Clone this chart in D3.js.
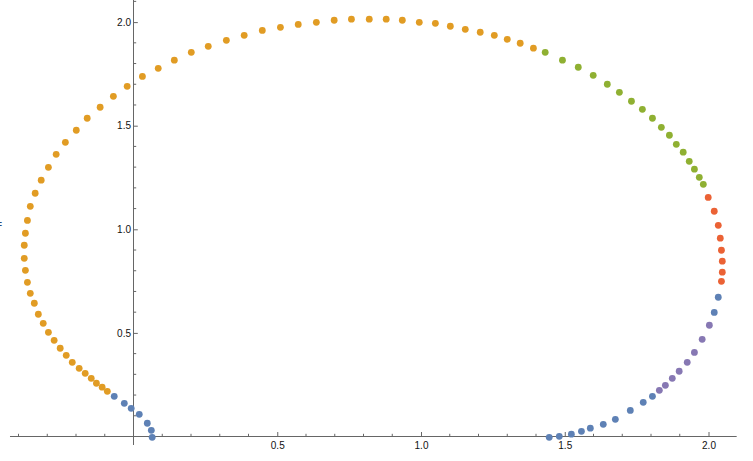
<!DOCTYPE html>
<html>
<head>
<meta charset="utf-8">
<script src="https://cdn.jsdelivr.net/npm/d3@7"></script>
<style>
  html, body { margin: 0; padding: 0; background: #fff; }
  svg { display: block; }
  .tick text { font-family: "Liberation Sans", Arial, sans-serif; font-size: 10px; fill: #111; }
</style>
</head>
<body>
<svg id="chart" width="753" height="461"></svg>
<script>
// ---- data ----
const orangePoints = [
  [-0.091,0.218],[-0.109,0.238],[-0.129,0.257],[-0.147,0.281],[-0.168,0.305],[-0.189,0.329],
  [-0.213,0.358],[-0.234,0.392],[-0.255,0.426],[-0.276,0.464],[-0.296,0.503],[-0.314,0.546],
  [-0.331,0.590],[-0.345,0.643],[-0.359,0.691],[-0.369,0.744],[-0.376,0.802],[-0.380,0.860],
  [-0.380,0.923],[-0.376,0.981],[-0.369,1.043],[-0.359,1.111],[-0.342,1.174],[-0.321,1.237],
  [-0.296,1.299],[-0.269,1.362],[-0.237,1.420],[-0.199,1.478],[-0.161,1.536],[-0.116,1.589],
  [-0.070,1.642],[-0.022,1.690],[0.031,1.738],[0.086,1.777],[0.142,1.816],[0.201,1.854],
  [0.260,1.883],[0.323,1.912],[0.385,1.936],[0.448,1.960],[0.511,1.975],[0.573,1.989],
  [0.636,1.999],[0.698,2.009],[0.758,2.014],[0.820,2.014],[0.879,2.014],[0.935,2.009],
  [0.994,1.999],[1.050,1.994],[1.102,1.980],[1.154,1.965],[1.206,1.951],[1.255,1.936],
  [1.300,1.917],[1.345,1.898],[1.391,1.874]
];
const greenPoints = [
  [1.432,1.854],[1.492,1.816],[1.547,1.782],[1.599,1.743],[1.648,1.700],[1.690,1.661],
  [1.732,1.618],[1.770,1.579],[1.805,1.536],[1.836,1.492],[1.864,1.454],[1.888,1.410],
  [1.912,1.372],[1.933,1.328],[1.951,1.290],[1.968,1.251],[1.982,1.217]
];
const redPoints = [
  [1.999,1.154],[2.020,1.087],[2.034,1.019],[2.041,0.957],[2.045,0.899],[2.048,0.846],
  [2.048,0.793],[2.045,0.749]
];
const purplePoints = [
  [2.003,0.537],[1.978,0.469],[1.951,0.406],[1.926,0.358],[1.898,0.315],[1.874,0.281],
  [1.850,0.247],[1.829,0.223]
];
const bluePoints = [
  [-0.067,0.194],[-0.032,0.160],[-0.008,0.136],[0.020,0.107],[0.048,0.064],[0.062,0.030],[0.065,-0.004],
  [1.446,-0.004],[1.481,0.001],[1.523,0.011],[1.558,0.025],[1.589,0.040],[1.634,0.059],[1.676,0.083],
  [1.728,0.126],[1.773,0.165],[1.805,0.194],
  [2.020,0.599],[2.034,0.672]
];
const xTickValues = [0.5, 1.0, 1.5, 2.0];
const yTickValues = [0.5, 1.0, 1.5, 2.0];
const xTickLabels = ["0.5", "1.0", "1.5", "2.0"];
const yTickLabels = ["0.5", "1.0", "1.5", "2.0"];
const xRange = [-0.4296, 2.098];
const yRange = [-0.041, 2.107];

const series = [
  { pts: bluePoints,   color: "#5E81B5" },
  { pts: orangePoints, color: "#E19C24" },
  { pts: greenPoints,  color: "#8FB032" },
  { pts: redPoints,    color: "#EB6235" },
  { pts: purplePoints, color: "#8778B3" }
];

// ---- scales ----
const x = d3.scaleLinear().domain([0, 2]).range([133.5, 708.5]);
const y = d3.scaleLinear().domain([0, 2]).range([436.5, 22.1]);

const svg = d3.select("#chart");
const axisColor = "#666";

// minor ticks
const xMinor = d3.range(-4, 21).map(i => i / 10).filter(v => xTickValues.every(t => Math.abs(t - v) > 1e-6) && Math.abs(v) > 1e-6);
const yMinor = d3.range(1, 22).map(i => i / 10).filter(v => yTickValues.every(t => Math.abs(t - v) > 1e-6));

svg.append("g").selectAll("line").data(xMinor).join("line")
  .attr("x1", d => x(d)).attr("x2", d => x(d))
  .attr("y1", y(0)).attr("y2", y(0) - 2.7)
  .attr("stroke", axisColor).attr("stroke-width", 1);
svg.append("g").selectAll("line").data(yMinor).join("line")
  .attr("y1", d => y(d)).attr("y2", d => y(d))
  .attr("x1", x(0)).attr("x2", x(0) + 2.7)
  .attr("stroke", axisColor).attr("stroke-width", 1);

// axis lines
svg.append("line")
  .attr("x1", x(xRange[0])).attr("x2", x(xRange[1]))
  .attr("y1", y(0)).attr("y2", y(0))
  .attr("stroke", axisColor).attr("stroke-width", 1);
svg.append("line")
  .attr("x1", x(0)).attr("x2", x(0))
  .attr("y1", y(yRange[0])).attr("y2", y(yRange[1]))
  .attr("stroke", axisColor).attr("stroke-width", 1);

// major axes
const xAxis = d3.axisBottom(x).tickValues(xTickValues)
  .tickFormat((d, i) => xTickLabels[i]).tickSize(-4.5).tickPadding(5.5);
const yAxis = d3.axisLeft(y).tickValues(yTickValues)
  .tickFormat((d, i) => yTickLabels[i]).tickSize(-4.3).tickPadding(2.5);

const gx = svg.append("g").attr("transform", `translate(0,${y(0)})`).call(xAxis);
const gy = svg.append("g").attr("transform", `translate(${x(0)},0)`).call(yAxis);
[gx, gy].forEach(g => {
  g.select(".domain").remove();
  g.selectAll(".tick line").attr("stroke", axisColor);
});

// clipped label fragment at far left
svg.append("text").attr("x", 2).attr("y", 227.5)
  .attr("text-anchor", "end")
  .attr("font-family", "Liberation Sans, Arial, sans-serif")
  .attr("font-size", 10).attr("fill", "#2a4a7a").text("=");

// points
series.forEach(s => {
  svg.append("g").selectAll("circle").data(s.pts).join("circle")
    .attr("cx", d => x(d[0])).attr("cy", d => y(d[1]))
    .attr("r", 3.4).attr("fill", s.color);
});
</script>
</body>
</html>
